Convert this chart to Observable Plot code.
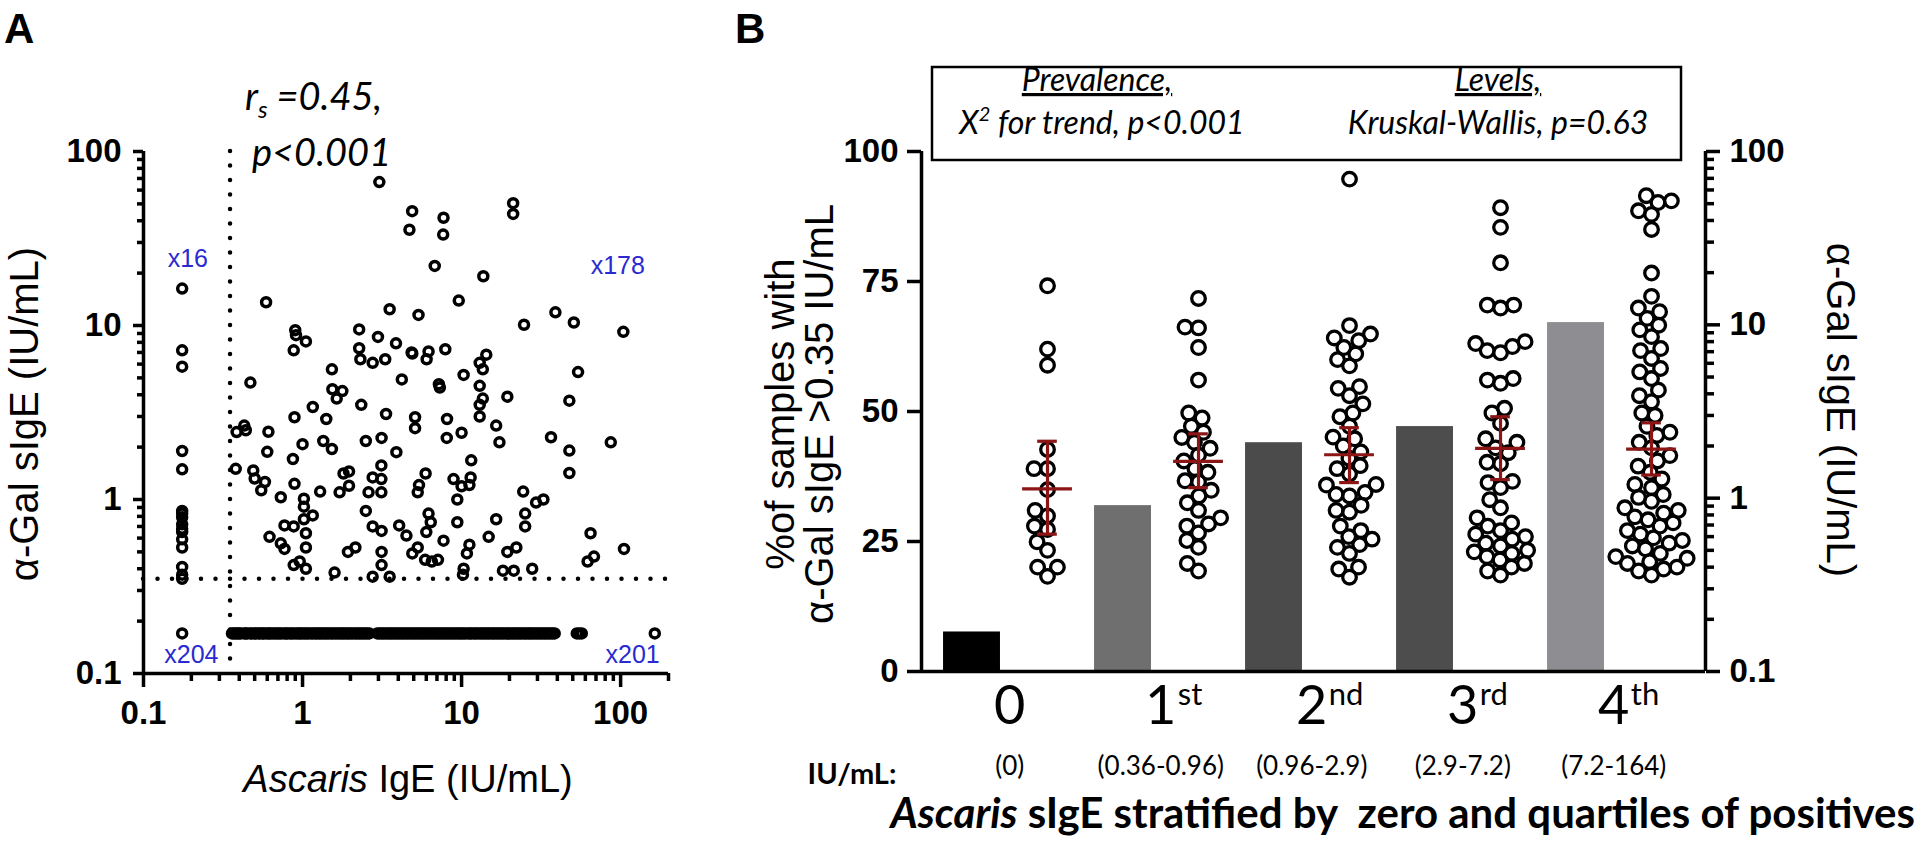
<!DOCTYPE html>
<html><head><meta charset="utf-8">
<script src="https://cdn.jsdelivr.net/npm/d3@7"></script>
<script src="https://cdn.jsdelivr.net/npm/@observablehq/plot@0.6"></script>
<style>
body{margin:0;background:#fff;}
#root{position:relative;width:1920px;height:856px;overflow:hidden;background:#fff;}
#root svg{position:absolute;left:0;top:0;background:transparent;overflow:visible;}
</style></head><body><div id="root"></div>
<script>
// ---------------- Panel A data ----------------
const ascarisDomain = [0.1, 200];
const agalDomain = [0.1, 100];
const cutoff = 0.35;
const belowDetection = 0.175; // value plotted for negatives
const belowDetectionY = 0.17;
// Ascaris negative, alpha-Gal positive (x16)
const agalWhenAscarisNeg = [16.3, 7.2, 5.8, 1.9, 1.49, 0.86, 0.83, 0.79, 0.72, 0.68, 0.65, 0.59, 0.53, 0.41, 0.37, 0.35];
// both positive (x178): Ascaris IgE and alpha-Gal sIgE pairs
const ascarisBothPos = [3.04,4.89,4.70,7.7,7.66,21.1,21.1,6.78,13.7,9.6,0.59,3.53,5.36,38.9,50.8,24.7,104,0.90,0.91,1.05,0.88,2.27,2.98,3.87,2.27,2.31,2.76,3.31,4.85,4.9,6.03,6.2,7.9,14.3,13.0,13.6,10.3,54,1.53,4.21,7.2,7.3,13.0,0.47,1.54,1.78,1.64,19.4,47.6,13.6,13.0,2.34,1.16,3.35,0.89,1.41,5.1,8.1,13.0,16.5,0.43,0.44,0.385,0.61,36.5,86.7,47.6,47.6,10.0,8.07,5.1,3.14,2.5,1.35,1.53,1.0,0.6,0.87,0.38,0.49,0.5,0.58,0.55,0.89,1.29,0.73,1.02,1.02,1.16,0.77,0.88,1.02,1.05,0.62,0.73,0.77,1.05,0.88,0.96,1.05,1.59,1.81,1.96,1.71,1.96,2.15,1.93,2.5,2.6,2.76,3.13,3.13,3.13,2.76,3.14,3.14,3.14,2.76,3.53,3.89,4.05,4.5,5.3,4.9,5.3,5.4,5.94,6.0,6.2,6.4,5.9,6.5,7.1,7.7,8.9,10.0,9.4,9.4,10.3,10.2,11.2,10.8,11.5,11.4,11.2,14.8,16.5,17.3,19.4,18.2,21.3,22.1,24.4,25.1,25.1,27.8,29.4,32.7,64.7,68,62,105];
const agalBothPos = [66.7,45.4,35.5,41.6,33.3,50.5,43.8,22.0,19.2,13.9,13.6,12.4,11.5,11.9,10.4,10.1,9.2,9.4,8.8,8.1,7.2,9.5,8.6,7.9,7.4,6.4,6.1,6.4,7.0,6.9,6.4,7.1,7.3,6.8,6.1,5.6,5.2,5.4,5.6,4.9,4.6,4.4,4.5,4.7,4.3,4.2,3.8,3.9,3.7,3.8,3.5,3.5,3.4,3.1,2.97,2.9,2.97,2.9,3.0,2.66,2.66,2.5,2.44,2.45,2.28,2.13,1.91,1.42,2.42,2.26,2.57,2.26,2.17,2.17,1.95,2.08,1.88,1.71,1.50,1.47,1.32,1.26,1.13,1.23,1.11,1.03,1.01,0.91,0.81,0.71,0.70,0.77,0.64,0.61,0.56,0.52,0.53,0.42,0.44,0.40,0.38,1.41,1.45,1.10,1.20,0.53,0.50,0.86,1.10,1.34,1.57,1.31,1.10,0.70,0.66,0.50,0.42,0.36,0.36,1.87,0.71,0.62,0.53,0.49,1.10,1.21,1.41,0.65,0.83,0.74,0.45,0.44,0.45,0.58,1.31,1.19,1.0,0.74,0.40,0.37,0.55,0.49,1.68,1.34,1.21,0.61,0.77,2.13,0.50,0.39,0.39,0.53,1.11,0.83,0.70,0.40,0.96,1.0,0.64,0.47,0.44,0.52];
// Ascaris positive, alpha-Gal negative (x201): Ascaris IgE values (dense band)
const ascarisWhenAgalNeg = [0.36,0.37,0.38,0.39,0.40,0.41,0.43,0.44,0.45,0.47,0.48,0.50,0.51,0.53,0.54,0.56,0.57,0.59,0.61,0.62,0.64,0.66,0.68,0.70,0.72,0.74,0.77,0.79,0.81,0.84,0.86,0.89,0.92,0.95,0.97,1.0,1.03,1.06,1.09,1.13,1.16,1.20,1.23,1.27,1.30,1.34,1.38,1.42,1.46,1.51,1.55,1.60,1.65,1.70,1.75,1.80,1.85,1.91,1.96,2.02,2.08,2.15,2.21,2.28,2.34,2.41,2.48,2.56,2.63,2.95,3.04,3.13,3.22,3.32,3.42,3.52,3.62,3.73,3.84,3.95,4.07,4.19,4.31,4.44,4.57,4.71,4.85,4.99,5.14,5.29,5.45,5.61,5.77,5.94,6.12,6.30,6.49,6.68,6.88,7.08,7.29,7.50,7.72,7.95,8.19,8.43,8.68,8.94,9.20,9.47,9.75,10.0,10.3,10.6,11.0,11.3,11.6,12.0,12.3,12.7,13.1,13.5,13.9,14.3,14.7,15.1,15.6,16.0,16.5,17.0,17.5,18.0,18.5,19.1,19.7,20.3,20.9,21.5,22.1,22.8,23.4,24.1,24.9,25.6,26.4,27.1,27.9,28.7,29.6,30.5,31.4,32.3,33.3,34.2,35.3,36.3,37.4,38.5,53,55,57,164];
const quadrantLabels = ["x16", "x178", "x204", "x201"];
const quadrantLabelX = [0.19, 96, 0.20, 119];
const quadrantLabelY = [24, 22, 0.127, 0.127];
const logMajor = [0.1, 1, 10, 100];
const logMinorA = [0.2,0.3,0.4,0.5,0.6,0.7,0.8,0.9,2,3,4,5,6,7,8,9,20,30,40,50,60,70,80,90];
const logMinorX = logMinorA.concat([200]);

// ---------------- Panel B data ----------------
const groupDigits = ["0", "1", "2", "3", "4"];
const groupSuffix = ["", "st", "nd", "rd", "th"];
const groupRanges = ["(0)", "(0.36-0.96)", "(0.96-2.9)", "(2.9-7.2)", "(7.2-164)"];
const prevalencePct = [7.6, 31.9, 44.0, 47.1, 67.1];
const barColors = ["#000000", "#6f6f6f", "#4b4b4b", "#4d4d4d", "#8e8e92"];
const pctTicks = [0, 25, 50, 75, 100];
const agalGroup0 = [16.8, 7.24, 5.85, 1.91, 1.48, 1.48, 1.12, 0.85, 0.79, 0.69, 0.66, 0.56, 0.50, 0.40, 0.40, 0.354];
const agalGroup1 = [14.2, 9.7, 9.6, 7.4, 4.8, 3.1, 2.9, 2.6, 2.4, 2.24, 2.1, 1.94, 1.77, 1.64, 1.48, 1.41, 1.26, 1.24, 1.11, 1.03, 0.94, 0.85, 0.77, 0.71, 0.69, 0.63, 0.57, 0.52, 0.42, 0.38];
const agalGroup2 = [69.3, 9.9, 8.85, 8.4, 8.1, 7.4, 6.8, 6.3, 5.8, 4.4, 4.3, 3.9, 3.5, 3.1, 2.95, 2.6, 2.25, 2.2, 2.0, 1.85, 1.7, 1.54, 1.48, 1.38, 1.2, 1.19, 1.08, 1.05, 1.03, 0.91, 0.85, 0.83, 0.69, 0.65, 0.60, 0.58, 0.54, 0.52, 0.48, 0.40, 0.39, 0.35];
const agalGroup3 = [47.4, 36.5, 22.8, 13.0, 13.0, 12.5, 8.0, 7.8, 7.5, 7.1, 6.9, 4.9, 4.8, 4.6, 3.3, 3.1, 2.7, 2.2, 2.1, 1.95, 1.83, 1.61, 1.58, 1.25, 1.23, 1.15, 0.98, 0.88, 0.77, 0.72, 0.69, 0.65, 0.62, 0.60, 0.58, 0.55, 0.53, 0.50, 0.49, 0.48, 0.46, 0.44, 0.42, 0.40, 0.38, 0.36];
const agalGroup4 = [55.6, 51.9, 50.8, 45.5, 43.4, 35.5, 19.9, 14.6, 12.5, 11.9, 10.9, 9.95, 9.35, 8.55, 7.3, 7.1, 6.4, 5.6, 5.35, 4.9, 4.2, 3.9, 3.6, 3.1, 3.0, 2.6, 2.4, 2.3, 2.1, 1.95, 1.76, 1.64, 1.53, 1.41, 1.29, 1.2, 1.15, 1.05, 1.01, 0.96, 0.88, 0.85, 0.82, 0.78, 0.75, 0.72, 0.69, 0.65, 0.62, 0.59, 0.57, 0.55, 0.53, 0.51, 0.48, 0.46, 0.45, 0.43, 0.42, 0.40, 0.39, 0.38, 0.36];
const agalGroups = [agalGroup0, agalGroup1, agalGroup2, agalGroup3, agalGroup4];
const geoMean = [1.13, 1.63, 1.78, 1.94, 1.92];
const semLow = [0.62, 1.15, 1.23, 1.28, 1.36];
const semHigh = [2.13, 2.35, 2.55, 2.95, 2.72];

// ---------------- layout ----------------
const W = 1920, H = 856;
const frameA = {left: 143, right: 668, top: 151, bottom: 673, width: 720};
const frameB = {left: 921, right: 1705, top: 151, bottom: 671};
const slotDomain = [-0.669, 9.715]; // bar slot 2g, dot slot 2g+1
const barHalf = 0.377, capHalf = 0.13, meanHalf = 0.33;
const red = "#8c1515";
const arial = "Liberation Sans, Arial, sans-serif";
const calibri = "Lato, 'Open Sans', sans-serif";
const tickFont = 33;
const root = document.getElementById("root");
function place(svg){ svg.style.position="absolute"; svg.style.left="0px"; svg.style.top="0px"; svg.style.background="transparent"; root.appendChild(svg); }

// Panel A
const bothPos = ascarisBothPos.map((x, i) => ({x, y: agalBothPos[i]}));
const negPos = agalWhenAscarisNeg.map(y => ({x: belowDetection, y}));
const posNeg = ascarisWhenAgalNeg.map(x => ({x, y: belowDetectionY}));
const negNeg = [{x: belowDetection, y: belowDetectionY}];
const ptsA = negNeg.concat(negPos, posNeg, bothPos);
const annots = quadrantLabels.map((t, i) => ({t, x: quadrantLabelX[i], y: quadrantLabelY[i]}));

const plotA = Plot.plot({
  width: frameA.width, height: H,
  marginLeft: frameA.left, marginRight: frameA.width - frameA.right,
  marginTop: frameA.top, marginBottom: H - frameA.bottom,
  x: {type: "log", domain: ascarisDomain},
  y: {type: "log", domain: agalDomain},
  style: {background: "transparent", overflow: "visible", fontFamily: arial, color: "black"},
  marks: [
    Plot.ruleX([cutoff], {stroke: "black", strokeWidth: 4.5, strokeDasharray: "0 14.5", strokeLinecap: "round"}),
    Plot.ruleY([cutoff], {stroke: "black", strokeWidth: 4.5, strokeDasharray: "0 14.5", strokeLinecap: "round"}),
    Plot.dot(ptsA, {x: "x", y: "y", r: 4.5, stroke: "black", strokeWidth: 3.5, fill: "none"}),
    Plot.text(annots, {x: "x", y: "y", text: "t", fill: "#2a2ad0", fontSize: 25, fontFamily: arial}),
    Plot.ruleX([ascarisDomain[0]], {stroke: "black", strokeWidth: 3.5}),
    Plot.ruleY([agalDomain[0]], {stroke: "black", strokeWidth: 3.5}),
    Plot.axisX({ticks: logMajor, tickSize: 14, tickPadding: 13, strokeWidth: 3.5, tickFormat: d => `${d}`, fontSize: tickFont, fontWeight: "bold", label: null}),
    Plot.axisX({ticks: logMinorX, tickSize: 8, strokeWidth: 3.5, tickFormat: () => "", label: null}),
    Plot.axisY({ticks: logMajor, tickSize: 10, tickPadding: 12, strokeWidth: 3.5, tickFormat: d => `${d}`, fontSize: tickFont, fontWeight: "bold", label: null}),
    Plot.axisY({ticks: logMinorA, tickSize: 6, strokeWidth: 3.5, tickFormat: () => "", label: null})
  ]
});
place(plotA);

// Panel B - linear (bars, left axis, category labels)
const groups = groupDigits.map((d, i) => ({i, d, s: groupSuffix[i], r: groupRanges[i], p: prevalencePct[i], c: barColors[i]}));
const plotB1 = Plot.plot({
  width: W, height: H,
  marginLeft: frameB.left, marginRight: W - frameB.right, marginTop: frameB.top, marginBottom: H - frameB.bottom,
  x: {type: "linear", domain: slotDomain, axis: null},
  y: {type: "linear", domain: [0, 100]},
  color: {type: "identity"},
  style: {background: "transparent", overflow: "visible", fontFamily: arial, color: "black"},
  marks: [
    Plot.rectY(groups, {x1: d => 2 * d.i - barHalf, x2: d => 2 * d.i + barHalf, y1: 0, y2: "p", fill: "c"}),
    Plot.ruleX([slotDomain[0]], {stroke: "black", strokeWidth: 3.5}),
    Plot.ruleY([0], {stroke: "black", strokeWidth: 3.5}),
    Plot.axisY({ticks: pctTicks, tickSize: 14, tickPadding: 9, strokeWidth: 3.5, fontSize: tickFont, fontWeight: "bold", label: null}),
    Plot.text(groups, {x: d => 2 * d.i + 0.5, text: "d", frameAnchor: "bottom", dy: 52, fontSize: 54, fontFamily: calibri}),
    Plot.text(groups, {x: d => 2 * d.i + 0.5, text: "s", frameAnchor: "bottom", dx: 17, dy: 33, textAnchor: "start", fontSize: 31, fontFamily: calibri}),
    Plot.text(groups, {x: d => 2 * d.i + 0.5, text: "r", frameAnchor: "bottom", dy: 103, fontSize: 26, fontFamily: calibri})
  ]
});
place(plotB1);

// Panel B - log (alpha-Gal levels, error bars, right axis)
const yLog = Plot.scale({y: {type: "log", domain: agalDomain, range: [frameB.bottom, frameB.top]}});
const pxPerSlot = (frameB.right - frameB.left) / (slotDomain[1] - slotDomain[0]);
function dodge(values, D) {
  const pts = values.map(v => ({v, py: yLog.apply(v)})).sort((a, b) => b.py - a.py);
  const placed = [];
  for (const p of pts) {
    const cands = [0];
    for (const q of placed) {
      const dy = Math.abs(q.py - p.py);
      if (dy < D) { const dx = Math.sqrt(D * D - dy * dy); cands.push(q.off + dx, q.off - dx); }
    }
    cands.sort((a, b) => Math.abs(a) - Math.abs(b) || a - b);
    for (const c of cands) {
      if (placed.every(q => (q.off - c) ** 2 + (q.py - p.py) ** 2 >= D * D - 1e-6)) { p.off = c; break; }
    }
    placed.push(p);
  }
  return placed;
}
const dotsB = [];
agalGroups.forEach((vals, g) => {
  dodge(vals, 13.5).forEach(p => dotsB.push({g, v: p.v, x: 2 * g + 1 + p.off / pxPerSlot}));
});
const errs = geoMean.map((m, g) => ({x: 2 * g + 1, m, lo: semLow[g], hi: semHigh[g]}));
const plotB2 = Plot.plot({
  width: W, height: H,
  marginLeft: frameB.left, marginRight: W - frameB.right, marginTop: frameB.top, marginBottom: H - frameB.bottom,
  x: {type: "linear", domain: slotDomain, axis: null},
  y: {type: "log", domain: agalDomain},
  style: {background: "transparent", overflow: "visible", fontFamily: arial, color: "black"},
  marks: [
    Plot.dot(dotsB, {x: "x", y: "v", r: 6.8, stroke: "black", strokeWidth: 3.3, fill: "none"}),
    Plot.ruleX(errs, {x: "x", y1: "lo", y2: "hi", stroke: red, strokeWidth: 3.2}),
    Plot.ruleY(errs, {y: "lo", x1: d => d.x - capHalf, x2: d => d.x + capHalf, stroke: red, strokeWidth: 3.2}),
    Plot.ruleY(errs, {y: "hi", x1: d => d.x - capHalf, x2: d => d.x + capHalf, stroke: red, strokeWidth: 3.2}),
    Plot.ruleY(errs, {y: "m", x1: d => d.x - meanHalf, x2: d => d.x + meanHalf, stroke: red, strokeWidth: 3.2}),
    Plot.ruleX([slotDomain[1]], {stroke: "black", strokeWidth: 3.5}),
    Plot.axisY({anchor: "right", ticks: logMajor, tickSize: 14, tickPadding: 10, strokeWidth: 3.5, tickFormat: d => `${d}`, fontSize: tickFont, fontWeight: "bold", label: null}),
    Plot.axisY({anchor: "right", ticks: logMinorA, tickSize: 8, strokeWidth: 3.5, tickFormat: () => "", label: null})
  ]
});
place(plotB2);

// ---------------- free text ----------------
const ov = d3.create("svg").attr("width", W).attr("height", H).attr("xmlns", "http://www.w3.org/2000/svg");
function txt(x, y, s, o = {}) {
  const t = ov.append("text").attr("x", x).attr("y", y)
    .attr("font-family", o.family || arial).attr("font-size", o.size || 30)
    .attr("font-weight", o.weight || "normal").attr("font-style", o.style || "normal")
    .attr("text-anchor", o.anchor || "start").attr("fill", o.fill || "black")
    .style("white-space", "pre");
  if (o.rotate) t.attr("transform", `rotate(${o.rotate},${x},${y})`);
  if (o.underline) t.attr("text-decoration", "underline");
  if (typeof s === "string") t.text(s); else s(t);
  return t;
}
txt(4, 43, "A", {size: 42, weight: "bold"});
txt(735, 43, "B", {size: 42, weight: "bold"});
txt(245, 110, t => {
  t.append("tspan").text("r");
  t.append("tspan").attr("font-size", 24).attr("dy", 8).text("s");
  t.append("tspan").attr("dy", -8).text(" =0.45,");
}, {size: 38, family: calibri, style: "italic"});
txt(252, 166, "p<0.001", {size: 38, family: calibri, style: "italic"});
txt(38, 414, "α-Gal sIgE (IU/mL)", {size: 40, anchor: "middle", rotate: -90});
txt(408, 792, t => {
  t.append("tspan").attr("font-style", "italic").text("Ascaris");
  t.append("tspan").text(" IgE (IU/mL)");
}, {size: 38, anchor: "middle"});
// stats box
ov.append("rect").attr("x", 932).attr("y", 67).attr("width", 749).attr("height", 93).attr("fill", "none").attr("stroke", "black").attr("stroke-width", 2.5);
txt(1097, 91, "Prevalence,", {size: 32, family: calibri, style: "italic", anchor: "middle", underline: true});
txt(1102, 134, t => {
  t.append("tspan").text("X");
  t.append("tspan").attr("font-size", 20).attr("dy", -13).text("2");
  t.append("tspan").attr("dy", 13).text(" for trend, p<0.001");
}, {size: 32, family: calibri, style: "italic", anchor: "middle"});
txt(1498, 91, "Levels,", {size: 32, family: calibri, style: "italic", anchor: "middle", underline: true});
txt(1498, 134, "Kruskal-Wallis, p=0.63", {size: 32, family: calibri, style: "italic", anchor: "middle"});
txt(794, 414, "%of samples with", {size: 40, anchor: "middle", rotate: -90});
txt(833, 414, "α-Gal sIgE >0.35 IU/mL", {size: 40, anchor: "middle", rotate: -90});
txt(1827, 410, "α-Gal sIgE (IU/mL)", {size: 40, anchor: "middle", rotate: 90});
txt(852, 784, "IU/mL:", {size: 29, family: calibri, weight: "bold", anchor: "middle"});
txt(1915, 828, t => {
  t.append("tspan").attr("font-style", "italic").text("Ascaris");
  t.append("tspan").text(" sIgE stratified by  zero and quartiles of positives");
}, {size: 42, family: calibri, weight: "bold", anchor: "end"});
ov.attr("style", "position:absolute;left:0;top:0;overflow:visible;background:transparent;");
root.appendChild(ov.node());
</script></body></html>
